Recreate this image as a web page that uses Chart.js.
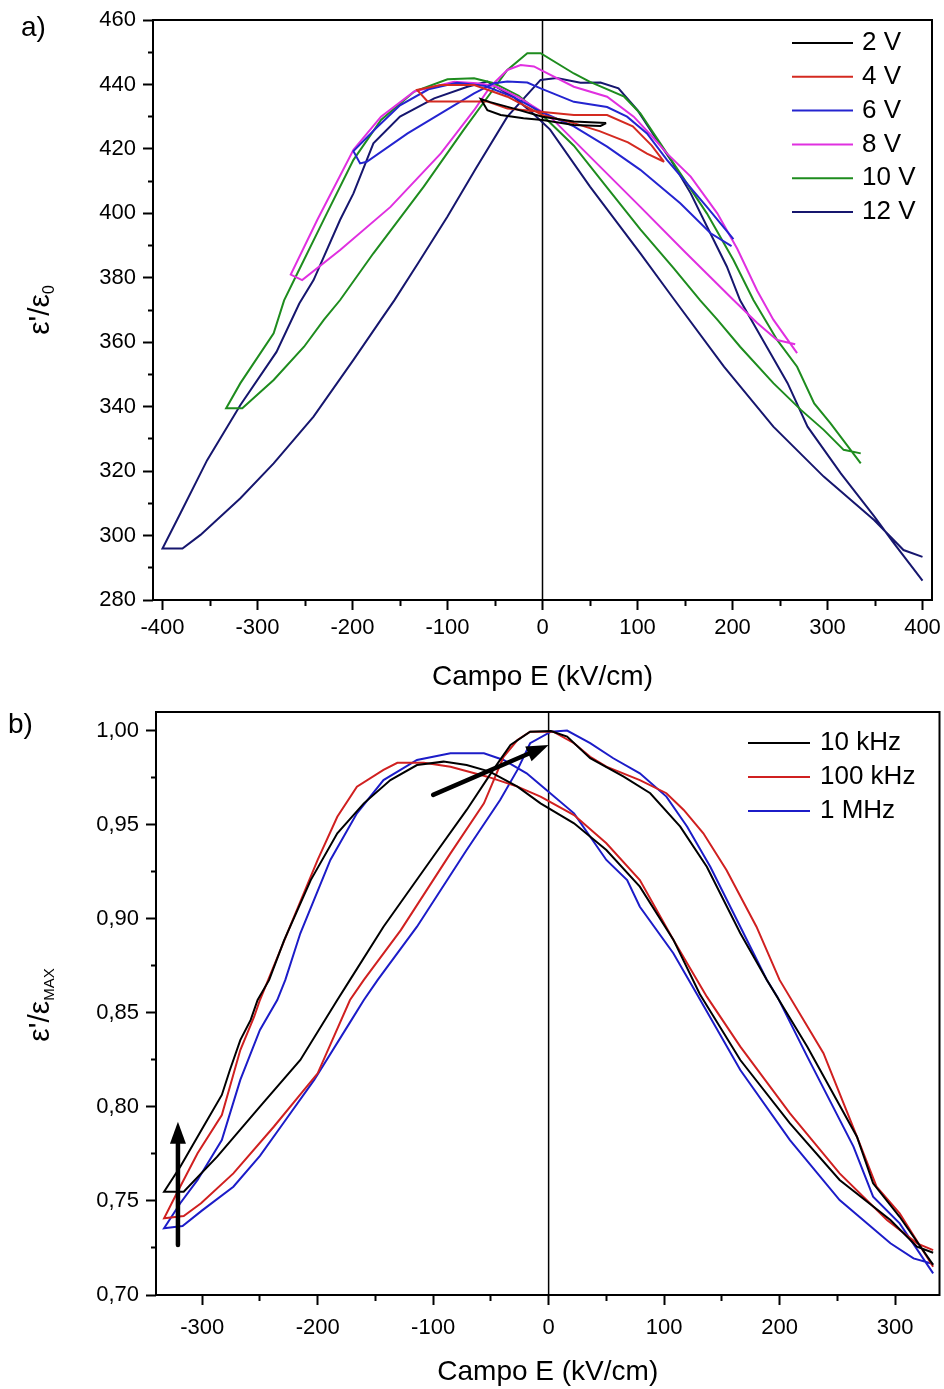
<!DOCTYPE html>
<html>
<head>
<meta charset="utf-8">
<script src="https://cdn.jsdelivr.net/npm/chart.js@4.4.0/dist/chart.umd.min.js"></script>
<style>
  body { margin: 0; background: #fff; }
  canvas { position: absolute; left: 0; }
</style>
</head>
<body>
<canvas id="chartA" width="944" height="695" style="top:0"></canvas>
<canvas id="chartB" width="944" height="694" style="top:695px"></canvas>
<script>
const fontFam = "'Liberation Sans', Arial, sans-serif";

// ---------- panel a : eps'/eps0 vs field, one loop per drive voltage ----------
const voltLabels = ['2 V', '4 V', '6 V', '8 V', '10 V', '12 V'];
const voltColors = ['#000000', '#d42a20', '#2424d0', '#e030e0', '#1e8c1e', '#16166e'];

const e2V = [67, 33, 0, -30, -55, -65, -58, -44, -20, 0, 33, 61, 67];
const c2V = [428.0, 428.5, 430.0, 432.5, 434.5, 435.5, 432.0, 430.5, 429.5, 429.0, 427.4, 427.1, 428.0];

const e4V = [128, 110, 90, 60, 33, 0, -37, -72, -107, -132, -121, -79, -58, -37, -2, 33, 68, 95, 115, 128];
const c4V = [416.0, 418.5, 422.0, 425.5, 428.0, 430.5, 436.2, 439.8, 439.8, 438.3, 434.7, 434.7, 434.7, 432.5, 431.5, 430.5, 430.5, 427.0, 421.0, 416.0];

const e6V = [199, 177, 145, 103, 68, 33, -2, -30, -60, -90, -120, -150, -175, -199, -192, -185, -142, -107, -72, -51, -37, -16, -2, 33, 68, 89, 110, 131, 152, 173, 201];
const c6V = [389.8, 393.8, 403.1, 413.5, 420.7, 427.0, 431.6, 436.0, 439.5, 440.5, 438.5, 433.5, 426.5, 419.3, 415.5, 416.0, 424.8, 431.0, 437.2, 440.4, 440.9, 440.6, 438.8, 434.6, 433.0, 430.0, 424.8, 416.6, 409.3, 402.0, 392.0];

const e8V = [266, 247, 226, 201, 150, 103, 50, 8, -25, -50, -69, -93, -135, -170, -199, -237, -265, -253, -213, -160, -107, -72, -55, -37, -23, -9, -2, 33, 68, 96, 114, 131, 156, 184, 205, 226, 243, 268];
const c8V = [359.4, 360.7, 366.0, 373.1, 388.0, 402.0, 417.6, 430.0, 436.0, 439.5, 440.4, 440.8, 437.8, 430.0, 419.7, 398.0, 381.0, 379.3, 388.6, 402.0, 418.6, 432.0, 439.3, 444.5, 446.0, 445.6, 444.5, 439.3, 436.2, 430.0, 424.3, 418.6, 411.4, 400.0, 389.0, 376.0, 367.0, 356.6];

const e10V = [335, 317, 296, 272, 243, 208, 184, 166, 138, 103, 68, 33, -2, -25, -51, -72, -100, -135, -170, -199, -227, -258, -272, -283, -318, -333, -316, -283, -251, -230, -213, -178, -125, -83, -55, -37, -16, -2, 33, 50, 86, 103, 124, 145, 173, 201, 222, 247, 268, 286, 303, 335];
const c10V = [325.5, 326.6, 332.8, 339.0, 347.3, 358.6, 367.0, 373.0, 383.0, 395.0, 408.0, 421.0, 431.0, 436.5, 440.4, 441.9, 441.6, 437.8, 429.0, 416.6, 400.0, 381.4, 373.0, 362.8, 347.3, 339.5, 339.5, 348.3, 358.6, 367.0, 373.1, 387.6, 408.3, 425.9, 437.2, 444.5, 449.7, 449.7, 443.4, 440.8, 436.2, 431.0, 421.7, 412.4, 400.0, 385.5, 373.1, 360.7, 352.4, 341.0, 334.9, 322.4];

const e12V = [400, 380, 349, 296, 243, 191, 138, 103, 50, 8, -10, -30, -58, -79, -114, -150, -178, -199, -213, -241, -256, -280, -318, -353, -381, -400, -379, -360, -318, -283, -241, -199, -170, -156, -130, -100, -70, -37, -2, 15, 40, 61, 80, 100, 117, 135, 156, 173, 194, 208, 236, 258, 279, 314, 349, 370, 400];
const c12V = [293.4, 295.5, 304.8, 318.3, 333.8, 352.4, 373.5, 387.6, 408.3, 426.0, 431.0, 436.0, 440.9, 439.3, 435.7, 430.0, 421.7, 406.2, 398.0, 379.3, 372.0, 357.0, 340.5, 323.4, 307.0, 296.0, 296.0, 300.2, 311.6, 322.4, 336.9, 354.5, 367.0, 373.0, 385.0, 399.0, 414.0, 430.0, 441.4, 442.0, 440.5, 440.6, 438.8, 432.0, 424.3, 416.6, 406.2, 396.0, 383.5, 373.0, 358.6, 347.3, 333.8, 319.3, 306.0, 297.6, 286.0];

const xTicksA = [-400, -350, -300, -250, -200, -150, -100, -50, 0, 50, 100, 150, 200, 250, 300, 350, 400];
const yTicksA = [280, 290, 300, 310, 320, 330, 340, 350, 360, 370, 380, 390, 400, 410, 420, 430, 440, 450, 460];

// ---------- panel b : eps'/epsMAX vs field, one loop per frequency ----------
const freqLabels = ['10 kHz', '100 kHz', '1 MHz'];
const freqColors = ['#000000', '#d02020', '#1c1cc8'];

const e10k = [333, 319, 296, 252, 209, 166, 131, 108, 79, 50, 22, -7, -27, -51, -71, -91, -114, -137, -160, -183, -206, -229, -242, -252, -258, -267, -276, -283, -299, -319, -333, -316, -287, -250, -215, -183, -172, -143, -100, -71, -48, -33, -16, 2, 16, 36, 65, 88, 114, 137, 166, 189, 224, 267, 281, 304, 333];
const r10k = [0.7225, 0.7257, 0.7399, 0.7612, 0.7913, 0.825, 0.860, 0.889, 0.9172, 0.9367, 0.9509, 0.9615, 0.9704, 0.9784, 0.9819, 0.9837, 0.9819, 0.9739, 0.9615, 0.9456, 0.9207, 0.8888, 0.8676, 0.8569, 0.8463, 0.8356, 0.8197, 0.8064, 0.7895, 0.7682, 0.7549, 0.7549, 0.7736, 0.8002, 0.825, 0.8569, 0.8676, 0.8959, 0.9331, 0.958, 0.9793, 0.9926, 0.9996, 1.0, 0.997, 0.9855, 0.9757, 0.9669, 0.9491, 0.9278, 0.8924, 0.8676, 0.8321, 0.7842, 0.7594, 0.7416, 0.716];

const e100k = [333, 319, 293, 252, 209, 166, 137, 108, 79, 50, 22, -7, -27, -53, -85, -108, -131, -143, -166, -183, -200, -224, -250, -255, -267, -276, -283, -304, -322, -333, -316, -301, -273, -238, -200, -172, -160, -128, -85, -56, -39, -27, -16, 4, 22, 36, 50, 79, 102, 117, 134, 154, 180, 200, 238, 267, 284, 304, 333];
const r100k = [0.7239, 0.7275, 0.7399, 0.7647, 0.7966, 0.8321, 0.8587, 0.889, 0.9207, 0.9403, 0.9553, 0.9651, 0.9704, 0.9757, 0.981, 0.9831, 0.9831, 0.9793, 0.9704, 0.9544, 0.9314, 0.8959, 0.8569, 0.848, 0.8303, 0.8108, 0.7957, 0.7754, 0.7541, 0.7408, 0.742, 0.7488, 0.7647, 0.7895, 0.8179, 0.8569, 0.8676, 0.8941, 0.9349, 0.9615, 0.9863, 0.9952, 0.9996, 0.9996, 0.9935, 0.9863, 0.981, 0.9739, 0.9669, 0.958, 0.9456, 0.9261, 0.8959, 0.8676, 0.8286, 0.7842, 0.7576, 0.7434, 0.715];

const e1M = [333, 316, 296, 252, 209, 166, 128, 108, 79, 68, 50, 22, -7, -19, -39, -56, -85, -114, -143, -166, -189, -215, -228, -235, -250, -267, -283, -304, -319, -333, -317, -300, -273, -250, -229, -203, -172, -160, -148, -114, -71, -42, -27, -16, 2, 16, 36, 56, 79, 102, 120, 140, 166, 189, 198, 224, 264, 281, 304, 333];
const r1M = [0.7165, 0.7195, 0.7275, 0.7505, 0.7824, 0.8197, 0.8605, 0.8818, 0.9065, 0.9207, 0.9314, 0.9562, 0.9713, 0.9775, 0.9846, 0.9881, 0.9881, 0.9846, 0.9739, 0.9562, 0.9314, 0.8924, 0.8676, 0.8569, 0.841, 0.8144, 0.7824, 0.7612, 0.7488, 0.7355, 0.7367, 0.745, 0.7576, 0.774, 0.792, 0.8144, 0.845, 0.8569, 0.8676, 0.8959, 0.9367, 0.9633, 0.9793, 0.9935, 0.9996, 1.0002, 0.9935, 0.9855, 0.9775, 0.9651, 0.9491, 0.9278, 0.8959, 0.8676, 0.8587, 0.8268, 0.7789, 0.7523, 0.7381, 0.7115];

const xTicksB = [-300, -250, -200, -150, -100, -50, 0, 50, 100, 150, 200, 250, 300];
const yTicksB = [0.70, 0.725, 0.75, 0.775, 0.80, 0.825, 0.85, 0.875, 0.90, 0.925, 0.95, 0.975, 1.00];

// arrows drawn in panel b: [x0, y0, x1, y1] in data units
const fieldArrows = [[-100, 0.966, 0, 0.9925], [-321, 0.7266, -321, 0.7922]];

function pts(e, c) { return e.map((v, i) => ({x: v, y: c[i]})); }

function lineSet(label, color, data) {
  return { label: label, data: data, borderColor: color, backgroundColor: color,
           borderWidth: 2, pointRadius: 0, showLine: true, fill: false, tension: 0 };
}

// ---------- plugins ----------
const framePlugin = {
  id: 'frame',
  afterDraw(chart) {
    const ctx = chart.ctx, a = chart.chartArea;
    ctx.save();
    ctx.strokeStyle = '#000';
    ctx.lineWidth = 2;
    ctx.strokeRect(a.left, a.top, a.right - a.left, a.bottom - a.top);
    ctx.restore();
  }
};

const keyPlugin = {
  id: 'key',
  afterDraw(chart, args, o) {
    const ctx = chart.ctx;
    ctx.save();
    ctx.font = o.size + 'px ' + fontFam;
    ctx.textBaseline = 'middle';
    let row = 0;
    chart.data.datasets.forEach(ds => {
      if (!ds.label) return;
      const y = o.y + row * o.dy;
      ctx.strokeStyle = ds.borderColor;
      ctx.lineWidth = 2;
      ctx.beginPath(); ctx.moveTo(o.x1, y); ctx.lineTo(o.x2, y); ctx.stroke();
      ctx.fillStyle = '#000';
      ctx.fillText(ds.label, o.tx, y);
      row++;
    });
    ctx.restore();
  }
};

const titlePlugin = {
  id: 'ytitle',
  afterDraw(chart, args, o) {
    const ctx = chart.ctx;
    ctx.save();
    ctx.fillStyle = '#000';
    ctx.translate(o.x, o.y);
    ctx.rotate(-Math.PI / 2);
    const big = o.size + 'px ' + fontFam, small = o.subSize + 'px ' + fontFam;
    ctx.font = big; const w1 = ctx.measureText(o.main).width;
    ctx.font = small; const w2 = ctx.measureText(o.sub).width;
    const x = -(w1 + w2) / 2, base = o.size * 0.3;
    ctx.font = big; ctx.fillText(o.main, x, base);
    ctx.font = small; ctx.fillText(o.sub, x + w1, base + o.subDrop);
    ctx.restore();
    ctx.save();
    ctx.fillStyle = '#000';
    ctx.font = o.tagSize + 'px ' + fontFam;
    ctx.fillText(o.tag, o.tagX, o.tagY);
    ctx.restore();
  }
};

const arrowPlugin = {
  id: 'arrows',
  afterDatasetsDraw(chart, args, o) {
    const ctx = chart.ctx, xs = chart.scales.x, ys = chart.scales.y;
    (o.list || []).forEach(a => {
      const x0 = xs.getPixelForValue(a[0]), y0 = ys.getPixelForValue(a[1]);
      const x1 = xs.getPixelForValue(a[2]), y1 = ys.getPixelForValue(a[3]);
      const ang = Math.atan2(y1 - y0, x1 - x0);
      const hl = 22, hw = 8;
      const bx = x1 - hl * Math.cos(ang), by = y1 - hl * Math.sin(ang);
      ctx.save();
      ctx.strokeStyle = '#000'; ctx.fillStyle = '#000';
      ctx.lineWidth = 4.5; ctx.lineCap = 'round';
      ctx.beginPath(); ctx.moveTo(x0, y0); ctx.lineTo(bx, by); ctx.stroke();
      ctx.beginPath(); ctx.moveTo(x1, y1);
      ctx.lineTo(bx + hw * Math.sin(ang), by - hw * Math.cos(ang));
      ctx.lineTo(bx - hw * Math.sin(ang), by + hw * Math.cos(ang));
      ctx.closePath(); ctx.fill();
      ctx.restore();
    });
  }
};

// ---------- axes ----------
function makeScales(o) {
  return {
    x: {
      type: 'linear', min: o.xMin, max: o.xMax,
      afterBuildTicks: ax => { ax.ticks = o.xTicks.map(v => ({value: v})); },
      afterFit: ax => { ax.height = o.xHeight; ax.paddingLeft = 0; ax.paddingRight = 0; },
      ticks: {
        autoSkip: false, maxRotation: 0, minRotation: 0, padding: o.xPad, color: '#000',
        font: {family: fontFam, size: 22},
        callback: v => (v % 100 === 0 ? String(v) : '')
      },
      grid: {
        drawOnChartArea: false, tickLength: 10, tickWidth: 2, tickColor: '#000',
        tickBorderDash: c => (c.tick && c.tick.value % 100 !== 0 ? [6, 30] : [])
      },
      border: { display: false },
      title: {
        display: true, text: 'Campo E (kV/cm)', color: '#000',
        font: {family: fontFam, size: 28}, padding: {top: 0, bottom: o.titlePad}
      }
    },
    y: {
      type: 'linear', min: o.yMin, max: o.yMax,
      afterBuildTicks: ax => { ax.ticks = o.yTicks.map(v => ({value: v})); },
      afterFit: ax => { ax.width = o.yWidth; ax.paddingTop = 0; ax.paddingBottom = 0; },
      ticks: {
        autoSkip: false, padding: 7, color: '#000',
        font: {family: fontFam, size: 22},
        callback: v => (o.yMajor(v) ? o.yFmt(v) : '')
      },
      grid: {
        drawOnChartArea: false, tickLength: 10, tickWidth: 2, tickColor: '#000',
        tickBorderDash: c => (c.tick && !o.yMajor(c.tick.value) ? [0, 5, 6, 30] : [])
      },
      border: { display: false }
    }
  };
}

// ---------- chart a ----------
const setsA = [
  lineSet(voltLabels[0], voltColors[0], pts(e2V, c2V)),
  lineSet(voltLabels[1], voltColors[1], pts(e4V, c4V)),
  lineSet(voltLabels[2], voltColors[2], pts(e6V, c6V)),
  lineSet(voltLabels[3], voltColors[3], pts(e8V, c8V)),
  lineSet(voltLabels[4], voltColors[4], pts(e10V, c10V)),
  lineSet(voltLabels[5], voltColors[5], pts(e12V, c12V))
];
setsA.push(Object.assign(lineSet('', '#000', [{x: 0, y: 280}, {x: 0, y: 460}]), {borderWidth: 1.5}));

new Chart(document.getElementById('chartA'), {
  type: 'scatter',
  data: { datasets: setsA },
  options: {
    responsive: false, animation: false, events: [],
    layout: { padding: {top: 20, right: 12, bottom: 0, left: 0} },
    scales: makeScales({
      xMin: -410, xMax: 410, xTicks: xTicksA, xHeight: 95, xPad: 5, titlePad: 1,
      yMin: 280, yMax: 460, yTicks: yTicksA, yWidth: 153,
      yMajor: v => v % 20 === 0, yFmt: v => String(v)
    }),
    plugins: {
      legend: { display: false }, tooltip: { enabled: false },
      key: { x1: 792, x2: 853, tx: 862, y: 43, dy: 33.8, size: 26 },
      ytitle: { main: "\u03b5'/\u03b5", sub: '0', size: 30, subSize: 16, subDrop: 5,
                x: 40, y: 310, tag: 'a)', tagSize: 28, tagX: 21, tagY: 36 }
    }
  },
  plugins: [framePlugin, keyPlugin, titlePlugin]
});

// ---------- chart b ----------
const setsB = [
  lineSet(freqLabels[0], freqColors[0], pts(e10k, r10k)),
  lineSet(freqLabels[1], freqColors[1], pts(e100k, r100k)),
  lineSet(freqLabels[2], freqColors[2], pts(e1M, r1M))
];
setsB.push(Object.assign(lineSet('', '#000', [{x: 0, y: 0.70}, {x: 0, y: 1.02}]), {borderWidth: 1.5}));

new Chart(document.getElementById('chartB'), {
  type: 'scatter',
  data: { datasets: setsB },
  options: {
    responsive: false, animation: false, events: [],
    layout: { padding: {top: 17, right: 4.5, bottom: 0, left: 0} },
    scales: makeScales({
      xMin: -340, xMax: 338.5, xTicks: xTicksB, xHeight: 94, xPad: 10, titlePad: 0,
      yMin: 0.70, yMax: 1.0101, yTicks: yTicksB, yWidth: 156,
      yMajor: v => Math.abs(v * 20 - Math.round(v * 20)) < 1e-6,
      yFmt: v => v.toFixed(2).replace('.', ',')
    }),
    plugins: {
      legend: { display: false }, tooltip: { enabled: false },
      key: { x1: 748, x2: 810, tx: 820, y: 48, dy: 34, size: 26 },
      ytitle: { main: "\u03b5'/\u03b5", sub: 'MAX', size: 30, subSize: 15, subDrop: 5,
                x: 40, y: 310, tag: 'b)', tagSize: 28, tagX: 8, tagY: 38 },
      arrows: { list: fieldArrows }
    }
  },
  plugins: [framePlugin, keyPlugin, titlePlugin, arrowPlugin]
});
</script>
</body>
</html>
